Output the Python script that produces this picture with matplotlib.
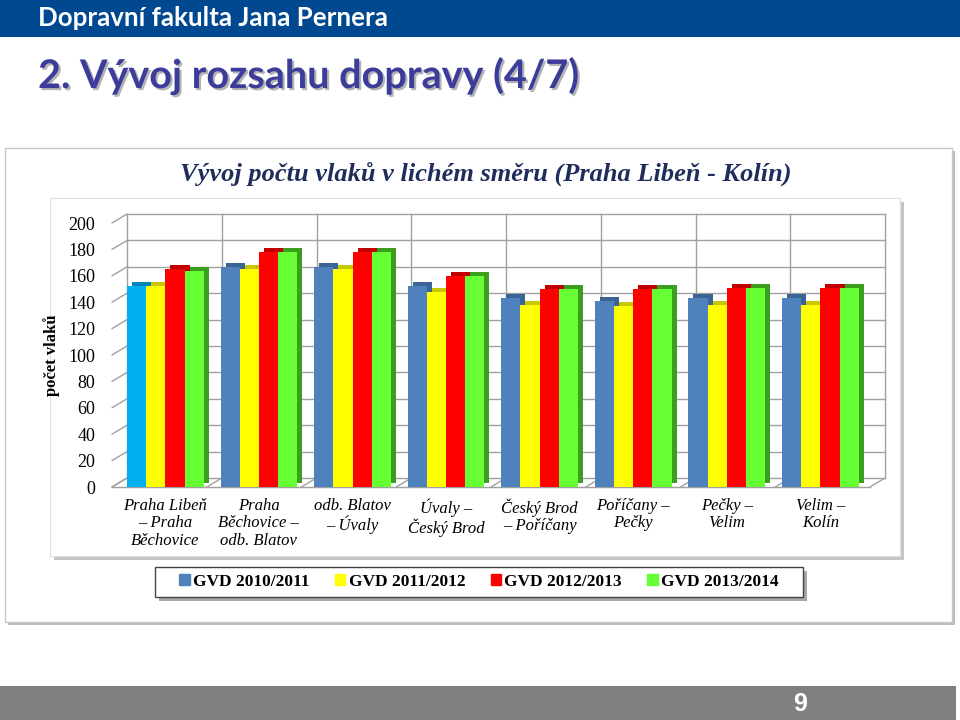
import numpy as np
import matplotlib.pyplot as plt
import matplotlib.transforms as mtransforms
import matplotlib.patheffects as pe
from matplotlib.patches import Rectangle, ConnectionPatch, Patch

useky = ['Praha Libeň\n– Praha\nBěchovice', 'Praha\nBěchovice –\nodb. Blatov',
         'odb. Blatov\n– Úvaly', 'Úvaly –\nČeský Brod', 'Český Brod\n– Poříčany',
         'Poříčany –\nPečky', 'Pečky –\nVelim', 'Velim –\nKolín']
gvd_2010 = [152, 167, 167, 152, 143, 141, 143, 143]
gvd_2011 = [152, 165, 165, 148, 138, 137, 138, 138]
gvd_2012 = [165, 178, 178, 160, 150, 150, 151, 151]
gvd_2013 = [164, 178, 178, 160, 150, 150, 151, 151]
serie = ['GVD 2010/2011', 'GVD 2011/2012', 'GVD 2012/2013', 'GVD 2013/2014']
y_ticks = [0, 20, 40, 60, 80, 100, 120, 140, 160, 180, 200]

barvy = ['#4f81bd', '#ffff00', '#ff0000', '#66ff33']
tmave = ['#3a6496', '#c8c800', '#c00000', '#3c9e1e']
prvni_barva = '#00b0f0'   # prvni sloupec je v originale azurovy
prvni_tmava = '#0085b8'

W, H = 960, 720
fig = plt.figure(figsize=(9.6, 7.2), dpi=100)
ft = fig.transFigure


def rect(x0, y0, x1, y1, **kw):
    fig.patches.append(Rectangle((x0 / W, 1 - y1 / H), (x1 - x0) / W, (y1 - y0) / H,
                                 transform=ft, figure=fig, zorder=-5, **kw))


# hlavicka a paticka slidu
rect(0, 0, 960, 37, facecolor='#00488f', edgecolor='none')
fig.text(38 / W, 1 - 18 / H, 'Dopravní fakulta Jana Pernera', color='white',
         fontsize=18.6, fontweight='bold', family='Lato', va='center')
fig.text(38 / W, 1 - 76 / H, '2. Vývoj rozsahu dopravy (4/7)', color='#3c3c9a',
         fontsize=28.5, fontweight='bold', family='Lato', va='center',
         path_effects=[pe.withSimplePatchShadow(offset=(1.5, -1.5), shadow_rgbFace='#a0a0a0', alpha=0.8)])
rect(0, 686, 956, 720, facecolor='#808080', edgecolor='none')
fig.text(800 / W, 1 - 704 / H, '9', color='white', fontsize=18, fontweight='bold',
         family='Liberation Sans', ha='center', va='center')

# ramecek grafu
rect(8, 151, 955, 625, facecolor='#bdbdbd', edgecolor='none')
rect(5, 148, 952, 622, facecolor='white', edgecolor='#c8c8c8', lw=1)
rect(54, 202, 904, 560, facecolor='#c4c4c4', edgecolor='none')
rect(50, 198, 900, 556, facecolor='white', edgecolor='#e0e0e0', lw=0.8)
rect(159, 571, 807, 601, facecolor='#a8a8a8', edgecolor='none')
rect(155, 567, 803, 597, facecolor='white', edgecolor='#444444', lw=1)
fig.text(486 / W, 1 - 174 / H, 'Vývoj počtu vlaků v lichém směru (Praha Libeň - Kolín)',
         color='#1f2d5c', fontsize=19, fontweight='bold', style='italic',
         family='Liberation Serif', ha='center', va='center')
fig.text(52 / W, 1 - 355 / H, 'počet vlaků', rotation=90, fontsize=12,
         fontweight='bold', family='Liberation Serif', ha='center', va='center')

ax = fig.add_axes([112 / W, 1 - 487 / H, (870 - 112) / W, (487 - 223) / H])
ax.set_facecolor('none')
for s in ax.spines.values():
    s.set_visible(False)
x0, x1 = -0.57, 7.53
ax.set_xlim(x0, x1)
ax.set_ylim(0, 200)

x = np.arange(len(useky))
sirka = 0.205
zadni = ax.transData + mtransforms.ScaledTranslation(15 / 100, 9 / 100, fig.dpi_scale_trans)
hloubka = ax.transData + mtransforms.ScaledTranslation(5 / 100, 4 / 100, fig.dpi_scale_trans)

# zadni stena a podlaha
for v in y_ticks:
    ax.plot([x0, x1], [v, v], color='#a0a0a0', lw=1, transform=zadni, zorder=1, clip_on=False)
    ax.add_artist(ConnectionPatch((x0, v), (x0, v), coordsA=ax.transData, coordsB=zadni,
                                  color='#a0a0a0', lw=1, zorder=1))
for g in np.arange(x0, x1 + 0.01, (x1 - x0) / 8):
    ax.plot([g, g], [0, 200], color='#a0a0a0', lw=1, transform=zadni, zorder=1, clip_on=False)
    ax.add_artist(ConnectionPatch((g, 0), (g, 0), coordsA=ax.transData, coordsB=zadni,
                                  color='#a0a0a0', lw=1, zorder=1))
ax.plot([x0, x1], [0, 0], color='#a0a0a0', lw=1, zorder=1, clip_on=False)

data = [gvd_2010, gvd_2011, gvd_2012, gvd_2013]
for i, hodnoty in enumerate(data):
    pos = x + (i - 1.5) * sirka
    c_front = [barvy[i]] * len(x)
    c_back = [tmave[i]] * len(x)
    if i == 0:
        c_front[0] = prvni_barva
        c_back[0] = prvni_tmava
    ax.bar(pos, hodnoty, sirka, color=c_back, transform=hloubka, zorder=2, clip_on=False)
    ax.bar(pos, hodnoty, sirka, color=c_front, zorder=3, clip_on=False)

ax.set_yticks(y_ticks)
ax.set_xticks(x)
ax.set_xticklabels(useky, fontsize=12, style='italic', family='Liberation Serif',
                   linespacing=1.1)
ax.tick_params(axis='both', length=0)
ax.tick_params(axis='y', pad=12, labelsize=13)
ax.tick_params(axis='x', pad=8)
for t in ax.get_yticklabels():
    t.set_family('Liberation Serif')

handles = [Patch(color=c) for c in barvy]
leg = fig.legend(handles, serie, loc='center', bbox_to_anchor=(479 / W, 1 - 582 / H),
                 ncol=4, frameon=False, handlelength=0.6, handleheight=0.6,
                 handletextpad=0.2, columnspacing=1.45,
                 prop={'family': 'Liberation Serif', 'weight': 'bold', 'size': 12.5})

fig.savefig('out.png', dpi=100)
